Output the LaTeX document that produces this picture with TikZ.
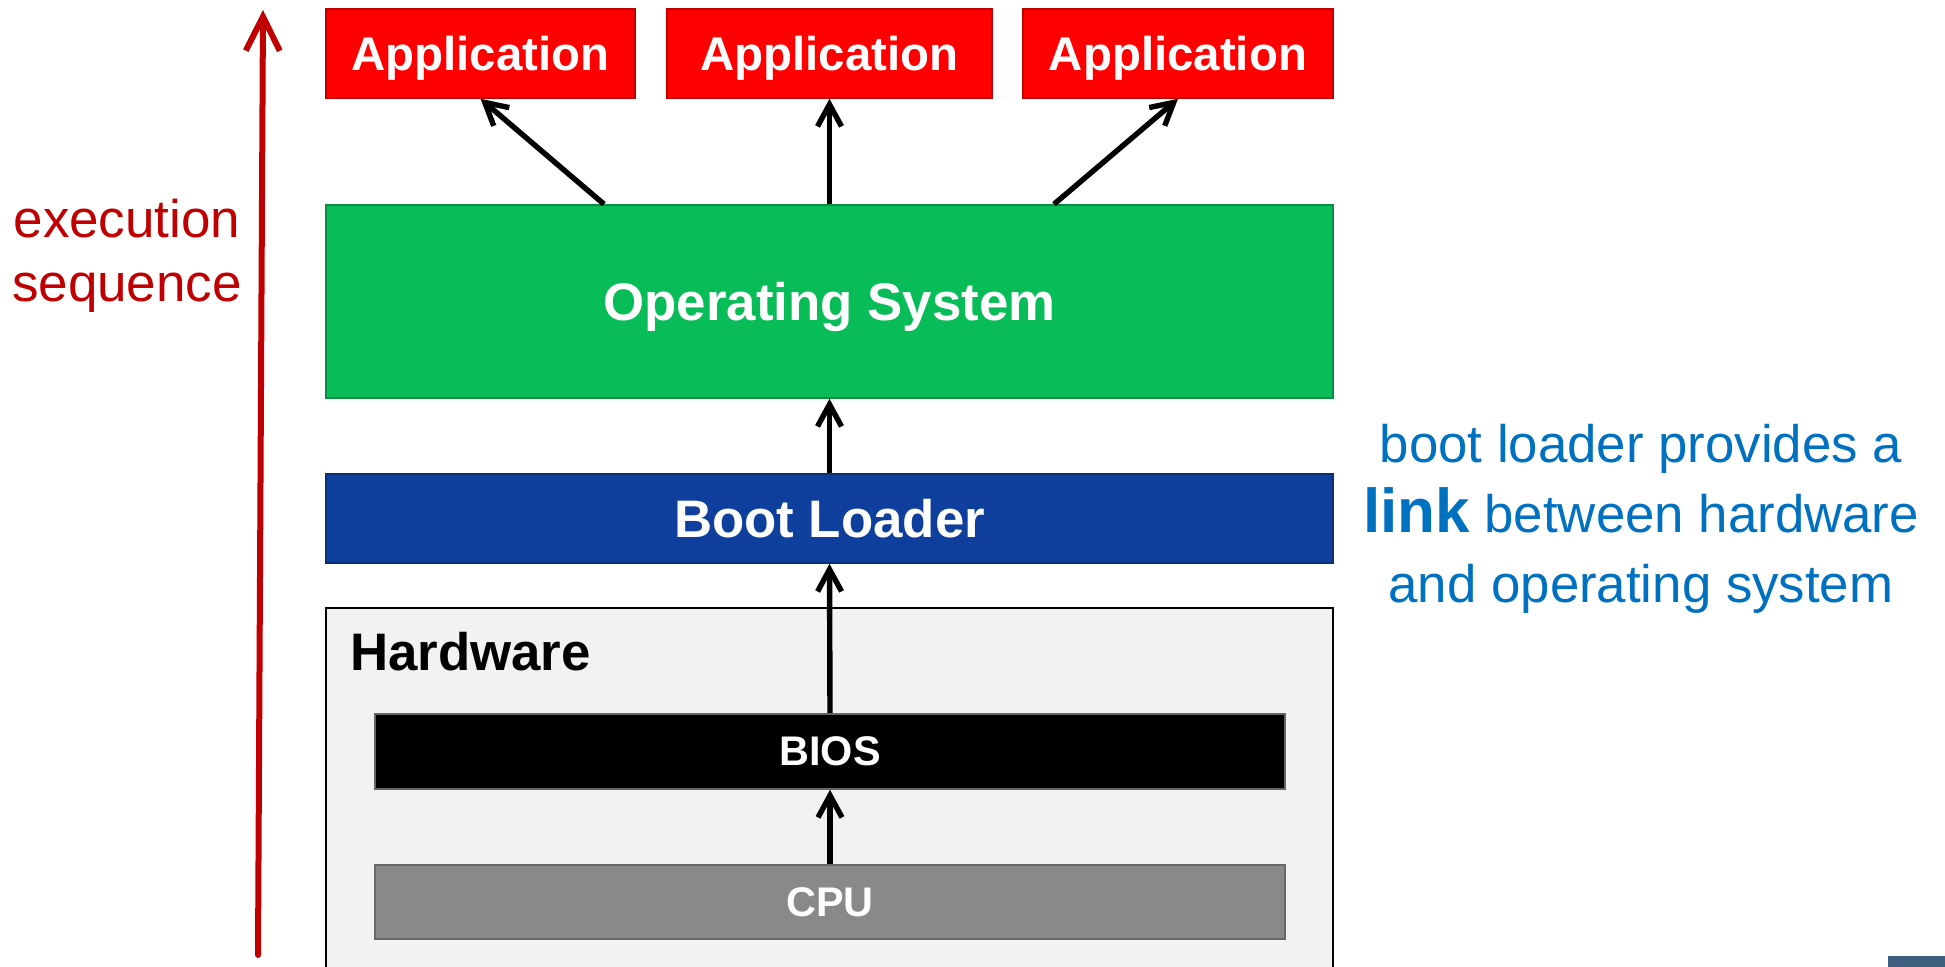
\documentclass[tikz,border=0pt]{standalone}
\usepackage{fontspec}
\setmainfont{Liberation Sans}
\usetikzlibrary{arrows.meta,positioning,calc}

\definecolor{appred}{HTML}{FF0000}
\definecolor{osgreen}{HTML}{08BC58}
\definecolor{blblue}{HTML}{0F3F9C}
\definecolor{cpugray}{HTML}{898989}
\definecolor{hwgray}{HTML}{F2F2F2}
\definecolor{seqred}{HTML}{C00000}
\definecolor{noteblue}{HTML}{0070C0}
\definecolor{slate}{HTML}{3E5F7E}

\tikzset{
  layer/.style={rectangle, inner sep=0pt, text=white, line width=0.8pt, text depth=0pt,
    font=\fontsize{26.4}{30}\selectfont\bfseries},
  appbox/.style={layer, fill=appred, draw=appred!75!black,
    minimum height=44.5pt, font=\fontsize{23.7}{28}\selectfont\bfseries},
  flow/.style={line width=2.7pt, -{Straight Barb[length=11pt,width=12pt]}},
  seqarrow/.style={seqred, line width=3pt, line cap=round,
    -{Straight Barb[length=17pt,width=17pt]}},
}

\begin{document}
\begin{tikzpicture}[x=0.5pt, y=-0.5pt]
			\useasboundingbox (0,0) rectangle (1945,967);
			% Layers
			\foreach \i/\cx/\w in {1/480.5/154.5, 2/829.5/162.5, 3/1178/155} {
				\node[appbox, minimum width=\w pt] (app\i) at (\cx, 53.5) {Application};
			}
			\node[layer, fill=osgreen, draw=osgreen!75!black, minimum width=503.5pt, minimum height=96.5pt] (os) at (829.5, 301.5) {Operating System};
			\node[layer, fill=blblue, draw=blblue!75!black, minimum width=503.5pt, minimum height=44.5pt] (bl) at (829.5, 518.5) {Boot Loader};
			\node[rectangle, fill=hwgray, minimum width=503.5pt, minimum height=179.5pt] (hw) at (829.5, 787.5) {};
			\draw[line width=1pt] (hw.south west) |- (hw.north east) -- (hw.south east);
			\node[anchor=west, font=\fontsize{26.4}{30}\selectfont\bfseries] (hwlabel) at (343, 652) {Hardware};
			\node[layer, fill=black, draw=black!60, minimum width=455pt, minimum height=37.5pt, font=\fontsize{20.7}{24}\selectfont\bfseries] (bios) at (830, 751.5) {BIOS};
			\node[layer, fill=cpugray, draw=cpugray!75!black, minimum width=455pt, minimum height=37pt, font=\fontsize{20.7}{24}\selectfont\bfseries] (cpu) at (830, 902) {CPU};
			% Flow
			\draw[flow] ([xshift=-112.75pt]os.north) -- (app1.south);
			\draw[flow] (os.north) -- (app2.south);
			\draw[flow] ([xshift=112.25pt]os.north) -- (app3.south);
			\draw[flow] (bl.north) -- (os.south);
			\draw[flow] (bios.north) -- (bl.south);
			\draw[flow] (cpu.north) -- (bios.south);
			% Sequence
			\coordinate (seqfoot) at (258, 955);
			\coordinate (seqhead) at (263, 10);
			\draw[seqarrow] (seqfoot) -- (seqhead);
			\node[text=seqred, align=center, font=\fontsize{26.5}{32}\selectfont] (seqlabel) at (127, 256) {execution\\sequence};
			% Note
			\node[text=noteblue, align=center, font=\fontsize{26.4}{35}\selectfont] (note) at (1641, 519) {boot loader provides a\\{\fontsize{31}{35}\selectfont\bfseries link} between hardware\\and operating system};
			\fill[slate] (1888, 956) rectangle (1945, 967);
		\end{tikzpicture}
\end{document}
